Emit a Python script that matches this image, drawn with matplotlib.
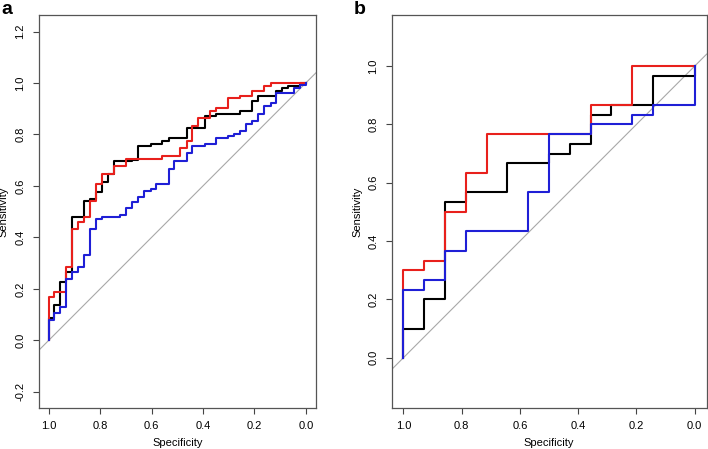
import matplotlib
matplotlib.use("Agg")
import matplotlib.pyplot as plt

plt.rcParams['font.family'] = ['Liberation Sans', 'DejaVu Sans']

# panel a: specificity at which sensitivity jumps to the given value
a_black_spec = [1.0, 1.0, 0.978, 0.955, 0.931, 0.908, 0.861, 0.838, 0.815, 0.791, 0.768, 0.745,
                0.675, 0.651, 0.604, 0.558, 0.534, 0.464, 0.394, 0.348, 0.254, 0.208, 0.184,
                0.114, 0.093, 0.070, 0.023, 0.0]
a_black_sens = [0.0, 0.085, 0.139, 0.225, 0.264, 0.479, 0.540, 0.548, 0.576, 0.617, 0.648, 0.696,
                0.702, 0.756, 0.764, 0.773, 0.786, 0.825, 0.870, 0.881, 0.891, 0.930, 0.951,
                0.970, 0.979, 0.990, 1.0, 1.0]

a_red_spec = [1.0, 1.0, 0.978, 0.931, 0.908, 0.885, 0.861, 0.838, 0.815, 0.791, 0.745, 0.698,
              0.558, 0.488, 0.464, 0.441, 0.418, 0.371, 0.348, 0.301, 0.254, 0.208, 0.161,
              0.137, 0.0]
a_red_sens = [0.0, 0.168, 0.187, 0.284, 0.431, 0.461, 0.479, 0.540, 0.609, 0.648, 0.679, 0.706,
              0.716, 0.747, 0.773, 0.833, 0.864, 0.891, 0.902, 0.940, 0.951, 0.970, 0.990,
              1.0, 1.0]

a_blue_spec = [1.0, 1.0, 0.978, 0.955, 0.931, 0.908, 0.885, 0.861, 0.838, 0.815, 0.791, 0.721,
               0.698, 0.675, 0.651, 0.628, 0.604, 0.581, 0.534, 0.511, 0.464, 0.441, 0.394,
               0.348, 0.301, 0.278, 0.254, 0.231, 0.208, 0.184, 0.161, 0.137, 0.114, 0.044,
               0.023, 0.0]
a_blue_sens = [0.0, 0.079, 0.108, 0.128, 0.237, 0.264, 0.284, 0.333, 0.431, 0.470, 0.479, 0.487,
               0.513, 0.539, 0.558, 0.579, 0.589, 0.609, 0.665, 0.696, 0.727, 0.756, 0.764,
               0.786, 0.795, 0.802, 0.812, 0.842, 0.852, 0.881, 0.911, 0.921, 0.960, 0.981,
               0.991, 1.0]

# panel b
b_black_spec = [1.0, 1.0, 0.929, 0.857, 0.786, 0.643, 0.5, 0.429, 0.357, 0.286, 0.143, 0.0]
b_black_sens = [0.0, 0.100, 0.200, 0.533, 0.567, 0.667, 0.700, 0.733, 0.833, 0.867, 0.967, 1.0]

b_red_spec = [1.0, 1.0, 0.929, 0.857, 0.786, 0.714, 0.357, 0.214, 0.0]
b_red_sens = [0.0, 0.300, 0.333, 0.500, 0.633, 0.767, 0.867, 1.0, 1.0]

b_blue_spec = [1.0, 1.0, 0.929, 0.857, 0.786, 0.571, 0.5, 0.357, 0.214, 0.143, 0.0]
b_blue_sens = [0.0, 0.233, 0.267, 0.367, 0.433, 0.567, 0.767, 0.800, 0.833, 0.867, 1.0]

a_yticks = [-0.2, 0.0, 0.2, 0.4, 0.6, 0.8, 1.0, 1.2]
b_yticks = [0.0, 0.2, 0.4, 0.6, 0.8, 1.0]
xticks = [1.0, 0.8, 0.6, 0.4, 0.2, 0.0]

fig = plt.figure(figsize=(7.08, 4.49), dpi=100)
ax_a = fig.add_axes([0.0547, 0.0913, 0.3917, 0.8746])
ax_b = fig.add_axes([0.5532, 0.0913, 0.4449, 0.8746])


def roc_panel(ax, curves, xlim, ylim, yticks, ylab_x):
    ax.axline((1, 0), (0, 1), color="#a8a8a8", lw=0.8, zorder=1)
    for spec, sens, col in curves:
        ax.plot(spec, sens, drawstyle="steps-post", color=col, lw=1.5, zorder=2)
    ax.set_xlim(*xlim)
    ax.set_ylim(*ylim)
    ax.set_xticks(xticks)
    ax.set_xticklabels(["%.1f" % t for t in xticks], fontsize=8)
    ax.set_yticks(yticks)
    ax.set_yticklabels(["%.1f" % t for t in yticks], fontsize=8, rotation=90, va="center")
    ax.tick_params(direction="out", length=4.5, width=0.8, color="#444444", pad=5)
    for s in ax.spines.values():
        s.set_color("#555555")
        s.set_linewidth(0.9)
    ax.set_xlabel("Specificity", fontsize=8, labelpad=5)
    ax.set_ylabel("Sensitivity", fontsize=8)
    ax.yaxis.set_label_coords(ylab_x, 0.5)


roc_panel(ax_a, [(a_black_spec, a_black_sens, "black"),
                 (a_red_spec, a_red_sens, "#e8201c"),
                 (a_blue_spec, a_blue_sens, "#1f1fd6")],
          (1.039, -0.04), (-0.263, 1.263), a_yticks, -0.108)
roc_panel(ax_b, [(b_black_spec, b_black_sens, "black"),
                 (b_red_spec, b_red_sens, "#e8201c"),
                 (b_blue_spec, b_blue_sens, "#1f1fd6")],
          (1.04, -0.041), (-0.172, 1.174), b_yticks, -0.093)

fig.text(0.002, 0.997, "a", fontsize=14, fontweight="bold", va="top", ha="left")
fig.text(0.5, 0.997, "b", fontsize=14, fontweight="bold", va="top", ha="left")

plt.savefig("out.png")
plt.close()
